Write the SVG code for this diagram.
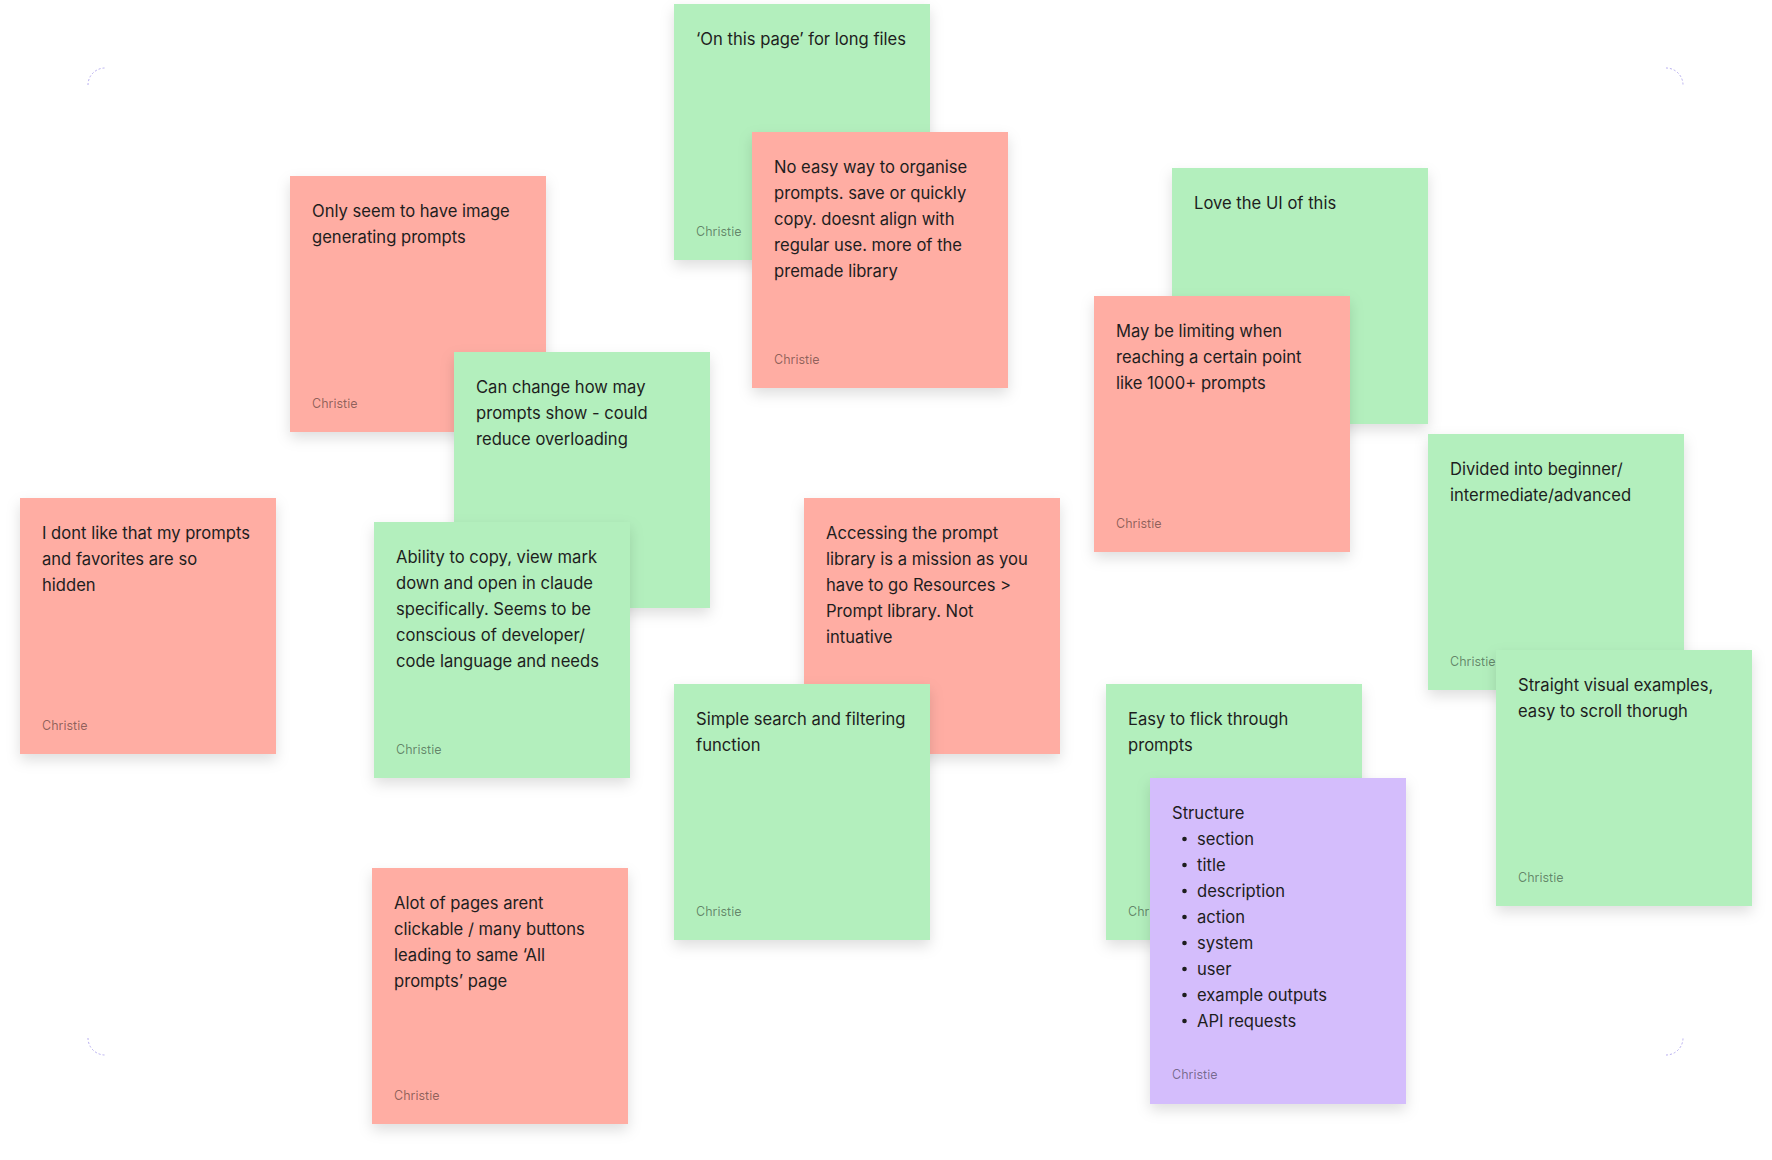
<svg xmlns="http://www.w3.org/2000/svg" width="1772" height="1160" viewBox="0 0 1772 1160">
<style>
.g{fill:#B3EFBD}
.r{fill:#FFADA3}
.p{fill:#D4BDFC}
.t{font-family:Inter,"Noto Sans","Liberation Sans",sans-serif;font-size:16.6px;fill:#1e1e1e}
.a{font-family:Inter,"Noto Sans","Liberation Sans",sans-serif;font-size:12.5px;fill:#000;fill-opacity:0.45}
.frame{fill:none;stroke:#b7aef0;stroke-width:1;stroke-dasharray:2 2}
</style>
<defs>
<filter id="sh" x="-20%" y="-20%" width="140%" height="150%">
<feDropShadow dx="0" dy="6" stdDeviation="7" flood-color="#000" flood-opacity="0.13"/>
</filter>
</defs>
<rect width="1772" height="1160" fill="#fff"/>
<g id="frame">
<path class="frame" d="M88 85 A17 17 0 0 1 105 68"/>
<path class="frame" d="M1666 68 A17 17 0 0 1 1683 85"/>
<path class="frame" d="M88 1038 A17 17 0 0 0 105 1055"/>
<path class="frame" d="M1666 1055 A17 17 0 0 0 1683 1038"/>
</g>
<g id="connectors"></g>

<g id="n1" transform="translate(674,4)">
<rect class="g" width="256" height="256" filter="url(#sh)"/>
<text class="t" x="22" y="41">‘On this page’ for long files</text>
<text class="a" x="22" y="232">Christie</text>
</g>
<g id="n2" transform="translate(752,132)">
<rect class="r" width="256" height="256" filter="url(#sh)"/>
<text class="t" x="22" y="41">No easy way to organise</text>
<text class="t" x="22" y="67">prompts. save or quickly</text>
<text class="t" x="22" y="93">copy. doesnt align with</text>
<text class="t" x="22" y="119">regular use. more of the</text>
<text class="t" x="22" y="145">premade library</text>
<text class="a" x="22" y="232">Christie</text>
</g>
<g id="n3" transform="translate(290,176)">
<rect class="r" width="256" height="256" filter="url(#sh)"/>
<text class="t" x="22" y="41">Only seem to have image</text>
<text class="t" x="22" y="67">generating prompts</text>
<text class="a" x="22" y="232">Christie</text>
</g>
<g id="n4" transform="translate(454,352)">
<rect class="g" width="256" height="256" filter="url(#sh)"/>
<text class="t" x="22" y="41">Can change how may</text>
<text class="t" x="22" y="67">prompts show - could</text>
<text class="t" x="22" y="93">reduce overloading</text>
</g>
<g id="n5" transform="translate(374,522)">
<rect class="g" width="256" height="256" filter="url(#sh)"/>
<text class="t" x="22" y="41">Ability to copy, view mark</text>
<text class="t" x="22" y="67">down and open in claude</text>
<text class="t" x="22" y="93">specifically. Seems to be</text>
<text class="t" x="22" y="119">conscious of developer/</text>
<text class="t" x="22" y="145">code language and needs</text>
<text class="a" x="22" y="232">Christie</text>
</g>
<g id="n6" transform="translate(1172,168)">
<rect class="g" width="256" height="256" filter="url(#sh)"/>
<text class="t" x="22" y="41">Love the UI of this</text>
</g>
<g id="n7" transform="translate(1094,296)">
<rect class="r" width="256" height="256" filter="url(#sh)"/>
<text class="t" x="22" y="41">May be limiting when</text>
<text class="t" x="22" y="67">reaching a certain point</text>
<text class="t" x="22" y="93">like 1000+ prompts</text>
<text class="a" x="22" y="232">Christie</text>
</g>
<g id="n8" transform="translate(1428,434)">
<rect class="g" width="256" height="256" filter="url(#sh)"/>
<text class="t" x="22" y="41">Divided into beginner/</text>
<text class="t" x="22" y="67">intermediate/advanced</text>
<text class="a" x="22" y="232">Christie</text>
</g>
<g id="n9" transform="translate(1496,650)">
<rect class="g" width="256" height="256" filter="url(#sh)"/>
<text class="t" x="22" y="41">Straight visual examples,</text>
<text class="t" x="22" y="67">easy to scroll thorugh</text>
<text class="a" x="22" y="232">Christie</text>
</g>
<g id="n10" transform="translate(20,498)">
<rect class="r" width="256" height="256" filter="url(#sh)"/>
<text class="t" x="22" y="41">I dont like that my prompts</text>
<text class="t" x="22" y="67">and favorites are so</text>
<text class="t" x="22" y="93">hidden</text>
<text class="a" x="22" y="232">Christie</text>
</g>
<g id="n11" transform="translate(804,498)">
<rect class="r" width="256" height="256" filter="url(#sh)"/>
<text class="t" x="22" y="41">Accessing the prompt</text>
<text class="t" x="22" y="67">library is a mission as you</text>
<text class="t" x="22" y="93">have to go Resources &gt;</text>
<text class="t" x="22" y="119">Prompt library. Not</text>
<text class="t" x="22" y="145">intuative</text>
</g>
<g id="n12" transform="translate(674,684)">
<rect class="g" width="256" height="256" filter="url(#sh)"/>
<text class="t" x="22" y="41">Simple search and filtering</text>
<text class="t" x="22" y="67">function</text>
<text class="a" x="22" y="232">Christie</text>
</g>
<g id="n13" transform="translate(1106,684)">
<rect class="g" width="256" height="256" filter="url(#sh)"/>
<text class="t" x="22" y="41">Easy to flick through</text>
<text class="t" x="22" y="67">prompts</text>
<text class="a" x="22" y="232">Christie</text>
</g>
<g id="n14" transform="translate(1150,778)">
<rect class="p" width="256" height="326" filter="url(#sh)"/>
<text class="t" x="22" y="41">Structure</text>
<g fill="#1e1e1e">
<circle cx="34.5" cy="61" r="2.3"/>
<circle cx="34.5" cy="87" r="2.3"/>
<circle cx="34.5" cy="113" r="2.3"/>
<circle cx="34.5" cy="139" r="2.3"/>
<circle cx="34.5" cy="165" r="2.3"/>
<circle cx="34.5" cy="191" r="2.3"/>
<circle cx="34.5" cy="217" r="2.3"/>
<circle cx="34.5" cy="243" r="2.3"/>
</g>
<text class="t" x="47" y="67">section</text>
<text class="t" x="47" y="93">title</text>
<text class="t" x="47" y="119">description</text>
<text class="t" x="47" y="145">action</text>
<text class="t" x="47" y="171">system</text>
<text class="t" x="47" y="197">user</text>
<text class="t" x="47" y="223">example outputs</text>
<text class="t" x="47" y="249">API requests</text>
<text class="a" x="22" y="301">Christie</text>
</g>
<g id="n15" transform="translate(372,868)">
<rect class="r" width="256" height="256" filter="url(#sh)"/>
<text class="t" x="22" y="41">Alot of pages arent</text>
<text class="t" x="22" y="67">clickable / many buttons</text>
<text class="t" x="22" y="93">leading to same ‘All</text>
<text class="t" x="22" y="119">prompts’ page</text>
<text class="a" x="22" y="232">Christie</text>
</g>
</svg>
